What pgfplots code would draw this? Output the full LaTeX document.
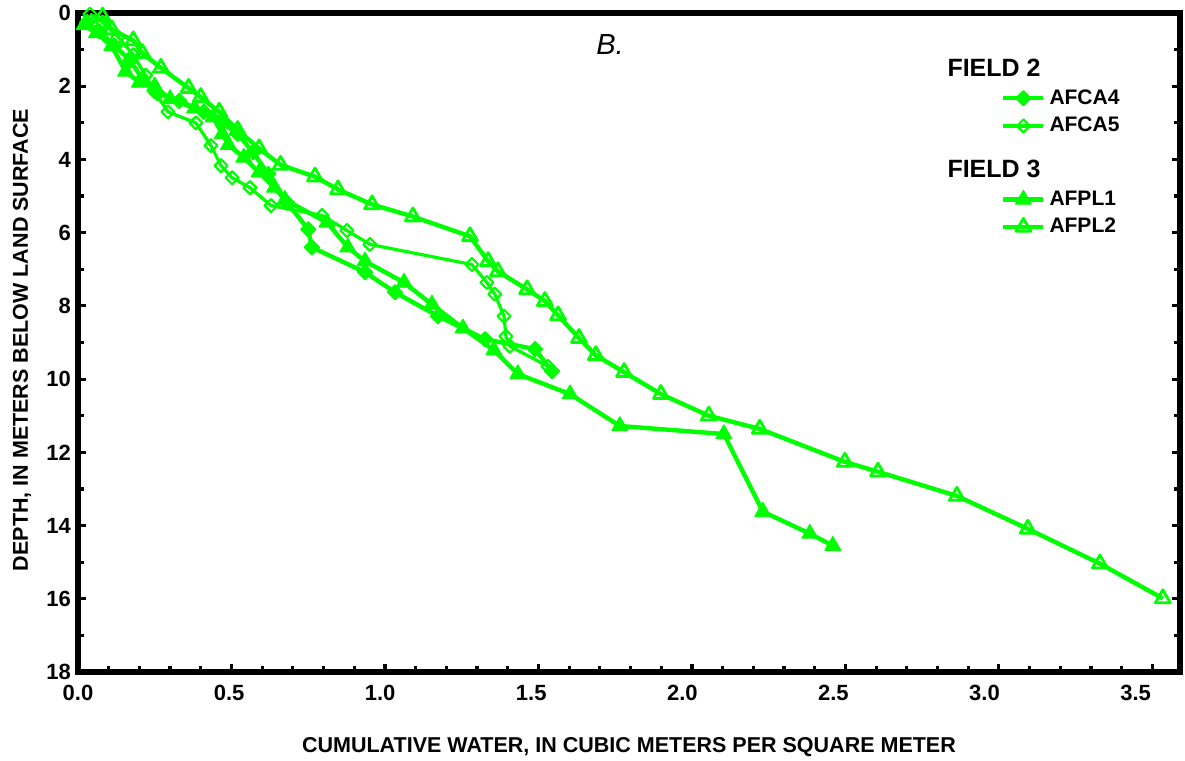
\documentclass[border=0pt]{standalone}
\usepackage{pgfplots}
\pgfplotsset{compat=1.18}
\usepackage{fontspec}
\setmainfont{Liberation Sans}
\definecolor{lg}{RGB}{0,255,0}
\begin{document}
\begin{tikzpicture}
\begin{axis}[
  scale only axis, width=551pt, height=329.5pt,
  xmin=0, xmax=3.59, ymin=0, ymax=18, y dir=reverse,
  axis line style={line width=2.8pt},
  xtick={0,0.5,1,1.5,2,2.5,3,3.5}, minor x tick num=4,
  ytick={0,2,4,6,8,10,12,14,16,18}, minor y tick num=1,
  xtick pos=left, ytick pos=both, tick align=inside,
  major tick length=4pt, minor tick length=3pt,
  every tick/.style={black, line width=1.6pt},
  /pgf/number format/assume math mode=true,
  ticklabel style={font=\bfseries\fontsize{11}{13}\selectfont},
  xticklabel style={/pgf/number format/.cd, fixed, fixed zerofill, precision=1, /tikz/.cd, yshift=-3pt, xshift={-1.2pt*\ticknum}},
  xlabel={CUMULATIVE WATER, IN CUBIC METERS PER SQUARE METER},
  ylabel={DEPTH, IN METERS BELOW LAND SURFACE},
  xlabel style={font=\bfseries\fontsize{10.75}{12}\selectfont, at={(axis description cs:0.5,-0.1146)}, anchor=center},
  ylabel style={font=\bfseries\fontsize{10.75}{12}\selectfont, at={(axis description cs:-0.0508,0.504)}, anchor=center},
  legend style={at={(0.832,0.943)}, anchor=north west, draw=none, fill=none,
    font=\bfseries\fontsize{10.5}{12}\selectfont, row sep=1pt},
  legend cell align=left,
  legend image code/.code={\draw[mark repeat=2,mark phase=2,#1] plot coordinates {(0cm,0cm)(0.35cm,0cm)(0.7cm,0cm)};},
  every axis plot/.append style={color=lg, line width=2.2pt, line join=round},
]
\addlegendimage{empty legend}
\addlegendentry{\rlap{\hspace*{-51pt}\fontsize{12.5}{14}\selectfont FIELD 2}}
\addplot[mark=square*, mark size=2.6pt, mark options={rotate=45, line width=0.8pt}] coordinates {
(0.03,0.25)(0.07,0.5)(0.12,0.9)(0.17,1.3)(0.21,1.8)(0.26,2.2)(0.33,2.4)(0.41,2.7)(0.47,3.0)(0.52,3.3)(0.57,3.8)(0.62,4.4)(0.681,5.18)(0.75,5.91)(0.762,6.40)(0.935,7.08)(1.033,7.63)(1.173,8.28)(1.326,8.91)(1.489,9.18)(1.544,9.78)};
\addlegendentry{AFCA4}
\addplot[line width=1.6pt, mark=square, mark size=2.3pt, mark options={rotate=45, line width=1.1pt, fill=white}] coordinates {
(0.039,0.03)(0.08,0.25)(0.13,0.65)(0.18,1.14)(0.22,1.7)(0.25,2.15)(0.293,2.70)(0.384,3.0)(0.433,3.62)(0.466,4.17)(0.502,4.50)(0.56,4.77)(0.629,5.26)(0.795,5.53)(0.876,5.94)(0.951,6.32)(1.283,6.87)(1.332,7.36)(1.358,7.68)(1.388,8.28)(1.394,8.83)(1.407,9.10)(1.531,9.65)};
\addlegendentry{AFCA5}
\addlegendimage{empty legend}
\addlegendentry{\rlap{\hspace*{-51pt}\rule{0pt}{16.5pt}\fontsize{12.5}{14}\selectfont FIELD 3}}
\addplot[mark=triangle*, mark size=4.6pt, mark options={line width=0.5pt}] coordinates {
(0.02,0.33)(0.06,0.55)(0.11,0.9)(0.155,1.6)(0.2,1.9)(0.25,2.0)(0.3,2.35)(0.38,2.6)(0.44,2.85)(0.47,3.3)(0.49,3.6)(0.54,3.95)(0.59,4.35)(0.64,4.77)(0.674,5.10)(0.811,5.72)(0.879,6.40)(0.935,6.78)(1.062,7.36)(1.153,7.96)(1.254,8.61)(1.355,9.21)(1.433,9.86)(1.603,10.41)(1.765,11.28)(2.104,11.50)(2.231,13.62)(2.384,14.22)(2.459,14.55)};
\addlegendentry{AFPL1}
\addplot[mark=triangle, mark size=4.3pt, mark options={line width=1.4pt, fill=white}] coordinates {
(0.08,0.1)(0.11,0.45)(0.18,0.75)(0.21,1.1)(0.27,1.5)(0.36,2.05)(0.40,2.3)(0.46,2.7)(0.52,3.2)(0.59,3.7)(0.66,4.15)(0.772,4.47)(0.847,4.82)(0.958,5.23)(1.091,5.56)(1.277,6.10)(1.336,6.78)(1.368,7.06)(1.463,7.55)(1.521,7.87)(1.564,8.26)(1.632,8.88)(1.687,9.35)(1.779,9.81)(1.899,10.41)(2.055,11.0)(2.221,11.36)(2.498,12.26)(2.606,12.53)(2.863,13.19)(3.094,14.09)(3.329,15.04)(3.534,15.99)};
\addlegendentry{AFPL2}
\node[font=\itshape\fontsize{14.5}{16}\selectfont] at (axis cs:1.733,0.87) {B.};
\coordinate (bl) at (rel axis cs:0,0);
\coordinate (tr) at (rel axis cs:1,1);
\end{axis}
\pgfresetboundingbox
\path ([shift={(-39pt,-44.5pt)}]bl) rectangle ([shift={(2.5pt,6.5pt)}]tr);
\end{tikzpicture}
\end{document}
